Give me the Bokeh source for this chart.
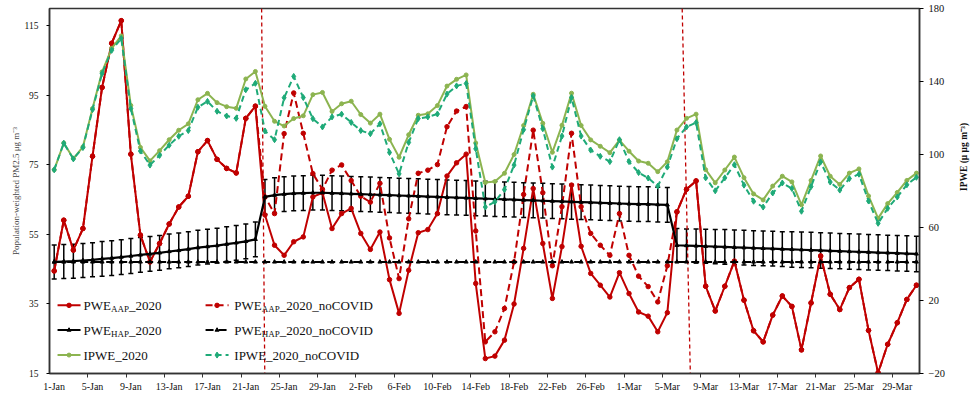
import math
from bokeh.plotting import figure
from bokeh.models import Range1d, LinearAxis, FixedTicker, Whisker, TeeHead, ColumnDataSource, Label
from bokeh.embed import file_html
from bokeh.resources import INLINE

# ---------------- data ----------------
tick_labels = ["1-Jan", "5-Jan", "9-Jan", "13-Jan", "17-Jan", "21-Jan", "25-Jan", "29-Jan",
               "2-Feb", "6-Feb", "10-Feb", "14-Feb", "18-Feb", "22-Feb", "26-Feb", "1-Mar",
               "5-Mar", "9-Mar", "13-Mar", "17-Mar", "21-Mar", "25-Mar", "29-Mar"]
tick_index = list(range(0, 89, 4))
days = list(range(91))  # 1-Jan .. 31-Mar 2020

pwe_aap_2020 = [44.5, 59.1, 50.5, 56.7, 77.5, 97.3, 110.0, 116.5, 78.1, 54.8,
                47.1, 52.4, 58.0, 62.9, 66.0, 78.8, 82.0, 76.6, 74.0, 72.7,
                88.4, 91.9, 60.6, 51.9, 49.0, 52.9, 54.3, 65.8, 67.0, 56.7,
                61.0, 62.5, 55.3, 50.7, 55.7, 42.0, 32.3, 44.7, 55.5, 56.4,
                61.0, 71.8, 75.6, 78.1, 40.9, 19.3, 20.0, 24.6, 35.0, 51.0,
                68.2, 52.4, 36.6, 51.5, 69.2, 51.6, 43.8, 40.4, 37.0, 44.0,
                38.0, 32.7, 31.5, 27.0, 32.5, 61.5, 68.0, 70.4, 40.1, 33.0,
                40.1, 47.3, 36.1, 27.3, 24.1, 31.8, 37.3, 34.3, 21.8, 35.3,
                48.8, 37.8, 33.4, 39.7, 42.1, 27.4, 15.2, 23.4, 29.6, 36.3,
                40.4]

pwe_aap_nocovid = [44.5, 59.1, 50.5, 56.7, 77.5, 97.3, 110.0, 116.5, 78.1, 54.8,
                   47.1, 52.4, 58.0, 62.9, 66.0, 78.8, 82.0, 76.6, 74.0, 72.7,
                   88.4, 91.9, 65.8, 61.0, 84.0, 95.7, 84.1, 72.5, 68.0, 73.5,
                   75.0, 70.5, 66.0, 64.3, 69.7, 54.0, 42.3, 59.5, 72.6, 73.5,
                   75.1, 86.0, 90.5, 91.8, 56.0, 24.1, 27.0, 33.7, 47.1, 66.5,
                   85.0, 67.0, 46.0, 63.0, 84.1, 63.0, 55.3, 51.9, 49.0, 61.0,
                   49.0, 43.0, 40.0, 35.6, 46.0, 61.5, 68.0, 70.4, 40.1, 33.0,
                   40.1, 47.3, 36.1, 27.3, 24.1, 31.8, 37.3, 34.3, 21.8, 35.3,
                   48.8, 37.8, 33.4, 39.7, 42.1, 27.4, 15.2, 23.4, 29.6, 36.3,
                   40.4]

pwe_hap_2020 = [47.1, 47.2, 47.3, 47.5, 47.7, 48.0, 48.2, 48.5, 48.8, 49.1,
                49.4, 49.7, 50.1, 50.4, 50.8, 51.2, 51.5, 51.8, 52.2, 52.6,
                53.0, 53.6, 65.8, 66.3, 66.6, 66.8, 66.9, 67.0, 67.0, 66.9,
                66.8, 66.7, 66.6, 66.5, 66.4, 66.3, 66.2, 66.1, 66.0, 65.9,
                65.8, 65.7, 65.6, 65.5, 65.4, 65.3, 65.2, 65.1, 65.0, 64.9,
                64.8, 64.7, 64.6, 64.5, 64.4, 64.3, 64.2, 64.1, 64.0, 63.9,
                63.8, 63.7, 63.7, 63.6, 63.5, 51.9, 51.8, 51.7, 51.6, 51.5,
                51.4, 51.3, 51.2, 51.1, 51.0, 50.9, 50.8, 50.7, 50.6, 50.5,
                50.4, 50.3, 50.2, 50.1, 50.0, 49.9, 49.8, 49.7, 49.6, 49.5,
                49.4]

pwe_hap_err = [4.9, 4.9, 4.9, 4.9, 4.9, 5.0, 5.0, 5.0, 5.0, 5.0,
               5.0, 5.0, 5.0, 5.0, 5.0, 5.0, 5.0, 5.0, 5.0, 5.0,
               5.0, 5.0, 5.0, 5.0, 5.0, 5.0, 5.0, 5.0, 5.0, 5.0,
               5.0, 5.0, 5.0, 5.0, 5.0, 5.0, 5.0, 5.0, 5.0, 5.0,
               5.0, 5.0, 5.0, 5.0, 5.0, 5.0, 5.0, 5.0, 5.0, 5.0,
               5.0, 5.0, 5.0, 5.0, 5.0, 5.0, 5.0, 5.0, 5.0, 5.0,
               5.0, 5.0, 5.0, 5.0, 5.0, 4.8, 4.8, 4.9, 4.9, 4.9,
               5.0, 5.0, 5.0, 5.0, 5.0, 5.0, 5.0, 5.1, 5.1, 5.1,
               5.1, 5.1, 5.1, 5.1, 5.1, 5.1, 5.1, 5.1, 5.1, 5.1,
               5.1]

pwe_hap_nocovid = [47.1, 47.1, 47.1, 47.1, 47.1, 47.1, 47.1, 47.1, 47.1, 47.1,
                   47.1, 47.1, 47.1, 47.1, 47.1, 47.1, 47.1, 47.1, 47.1, 47.1,
                   47.1, 47.1, 47.1, 47.1, 47.1, 47.1, 47.1, 47.1, 47.1, 47.1,
                   47.1, 47.1, 47.1, 47.1, 47.1, 47.1, 47.1, 47.1, 47.1, 47.1,
                   47.1, 47.1, 47.1, 47.1, 47.1, 47.1, 47.1, 47.1, 47.1, 47.1,
                   47.1, 47.1, 47.1, 47.1, 47.1, 47.1, 47.1, 47.1, 47.1, 47.1,
                   47.1, 47.1, 47.1, 47.1, 47.1, 47.1, 47.1, 47.1, 47.1, 47.1,
                   47.1, 47.1, 47.1, 47.1, 47.1, 47.1, 47.1, 47.1, 47.1, 47.1,
                   47.1, 47.1, 47.1, 47.1, 47.1, 47.1, 47.1, 47.1, 47.1, 47.1,
                   47.1]

ipwe_2020 = [91.6, 106.3, 97.8, 104.2, 125.2, 145.3, 158.2, 165.0, 126.9, 103.9,
             96.5, 102.1, 108.1, 113.3, 116.8, 130.0, 133.5, 128.4, 126.2, 125.3,
             141.4, 145.5, 126.4, 118.2, 115.6, 119.7, 121.2, 132.8, 134.0, 123.6,
             127.8, 129.2, 121.9, 117.2, 122.1, 108.3, 98.5, 110.8, 121.5, 122.3,
             126.8, 137.5, 141.2, 143.6, 106.3, 84.6, 85.2, 89.7, 100.0, 115.9,
             133.0, 117.1, 101.2, 116.0, 133.6, 115.9, 108.0, 104.5, 101.0, 107.9,
             101.8, 96.4, 95.2, 90.6, 96.0, 113.4, 119.8, 122.1, 91.7, 84.5,
             91.5, 98.6, 87.3, 78.4, 75.1, 82.7, 88.1, 85.0, 72.4, 85.8,
             99.2, 88.1, 83.6, 89.8, 92.1, 77.3, 65.0, 73.1, 79.2, 85.8,
             89.8]

ipwe_nocovid = [91.6, 106.2, 97.6, 103.8, 124.6, 144.4, 157.1, 163.6, 125.2, 101.9,
                94.2, 99.5, 105.1, 110.0, 113.1, 125.9, 129.1, 123.7, 121.1, 119.8,
                135.5, 139.0, 112.9, 108.1, 131.1, 142.8, 131.2, 119.6, 115.1, 120.6,
                122.1, 117.6, 113.1, 111.4, 116.8, 101.1, 89.4, 106.6, 119.7, 120.6,
                122.2, 133.1, 137.6, 138.9, 103.1, 71.2, 74.1, 80.8, 94.2, 113.6,
                132.1, 114.1, 93.1, 110.1, 131.2, 110.1, 102.4, 99.0, 96.1, 108.1,
                96.1, 90.1, 87.1, 82.7, 93.1, 108.6, 115.1, 117.5, 87.2, 80.1,
                87.2, 94.4, 83.2, 74.4, 71.2, 78.9, 84.4, 81.4, 68.9, 82.4,
                95.9, 84.9, 80.5, 86.8, 89.2, 74.5, 62.3, 70.5, 76.7, 83.4,
                87.5]

# hand-drawn event markers (top x, bottom x), in day index
event_lines = [(21.65, 21.98), (65.55, 66.4)]

# ---------------- styles ----------------
RED = "#C00000"
BLACK = "#000000"
OLIVE = "#8CB450"
TEAL = "#1EAA78"
SERIF = "Liberation Serif"

p = figure(width=980, height=396, output_backend="svg", toolbar_location=None,
           x_range=Range1d(-0.49, 90.32), y_range=Range1d(15, 120),
           min_border_left=49, min_border_right=61, min_border_top=8, min_border_bottom=23)
p.extra_y_ranges = {"right": Range1d(-20, 180)}
p.xgrid.visible = False
p.ygrid.visible = False
p.outline_line_color = "#333333"
p.outline_line_width = 1.5
p.background_fill_color = "white"
p.border_fill_color = "white"

# x axis
xa = p.xaxis[0]
xa.ticker = FixedTicker(ticks=tick_index, minor_ticks=[t + 3.5 for t in tick_index[:-1]])
xa.major_label_overrides = {t: lab for t, lab in zip(tick_index, tick_labels)}
xa.major_tick_out = 0
xa.major_tick_in = 0
xa.minor_tick_out = 4
xa.minor_tick_in = 0
xa.minor_tick_line_color = "#333333"
xa.major_label_standoff = 3
xa.major_label_text_font = SERIF
xa.major_label_text_font_size = "10px"
xa.major_label_text_color = "#111111"
xa.axis_line_color = "#333333"
xa.axis_line_width = 1.5

# left axis
ya = p.yaxis[0]
ya.ticker = FixedTicker(ticks=[15, 35, 55, 75, 95, 115])
ya.minor_tick_line_color = None
ya.major_tick_out = 3
ya.major_tick_in = 0
ya.major_label_standoff = 8
ya.major_label_text_font = SERIF
ya.major_label_text_font_size = "9.5px"
ya.major_label_text_color = "#111111"
ya.axis_line_color = "#333333"
ya.axis_line_width = 1.5
ya.axis_label = "Population-weighted PM2.5 μg m⁻³"
ya.axis_label_text_font = SERIF
ya.axis_label_text_font_size = "9px"
ya.axis_label_text_font_style = "normal"
ya.axis_label_standoff = 1

# right axis (title reads bottom-to-top, like the reference)
ra = LinearAxis(y_range_name="right", ticker=FixedTicker(ticks=[-20, 20, 60, 100, 140, 180]))
ra.minor_tick_line_color = None
ra.major_tick_out = 4
ra.major_tick_in = 0
ra.major_label_standoff = 5
ra.major_label_text_font = SERIF
ra.major_label_text_font_size = "10.5px"
ra.major_label_text_color = "#111111"
ra.axis_line_color = "#333333"
ra.axis_line_width = 1.5
ra.axis_label = "IPWE (μ μg m⁻³)"
ra.axis_label_text_font = SERIF
ra.axis_label_text_font_size = "9.5px"
ra.axis_label_text_font_style = "bold"
ra.axis_label_text_color = "#111111"
ra.axis_label_standoff = 16
if "axis_label_orientation" in ra.properties():
    ra.axis_label_orientation = math.pi / 2
    ra.axis_label_text_align = "center"
p.add_layout(ra, "right")

# event lines
for top_x, bot_x in event_lines:
    p.segment(x0=[top_x], y0=[120], x1=[bot_x], y1=[15], line_color=RED,
              line_width=1.3, line_dash="4 3")

# series
p.line(days, pwe_aap_2020, line_color=RED, line_width=2)
p.scatter(days, pwe_aap_2020, marker="circle", size=4.5, color=RED)

p.line(days, pwe_aap_nocovid, line_color=RED, line_width=2, line_dash="7 4")
p.scatter(days, pwe_aap_nocovid, marker="circle", size=4.5, color=RED)

src = ColumnDataSource(dict(
    x=days,
    upper=[h + e for h, e in zip(pwe_hap_2020, pwe_hap_err)],
    lower=[h - e for h, e in zip(pwe_hap_2020, pwe_hap_err)],
))
p.add_layout(Whisker(source=src, base="x", upper="upper", lower="lower",
                     line_color=BLACK, line_width=1.5,
                     upper_head=TeeHead(size=5, line_width=1.5, line_color=BLACK),
                     lower_head=TeeHead(size=5, line_width=1.5, line_color=BLACK)))
p.line(days, pwe_hap_2020, line_color=BLACK, line_width=2.2)
p.scatter(days, pwe_hap_2020, marker="triangle", size=4, color=BLACK)

p.line(days, pwe_hap_nocovid, line_color=BLACK, line_width=2, line_dash="8 5")
p.scatter(days, pwe_hap_nocovid, marker="triangle", size=4, color=BLACK)

p.line(days, ipwe_2020, line_color=OLIVE, line_width=2, y_range_name="right")
p.scatter(days, ipwe_2020, marker="circle", size=4, color=OLIVE, y_range_name="right")

p.line(days, ipwe_nocovid, line_color=TEAL, line_width=2, line_dash="6 4", y_range_name="right")
p.scatter(days, ipwe_nocovid, marker="diamond", size=6, color=TEAL, y_range_name="right")

# ---------------- legend (manual, to allow subscripts) ----------------
legend_rows = [
    (dict(color=RED, dash="solid", marker="circle", msize=4.5),
     ("PWE", "AAP", "_2020"),
     dict(color=RED, dash="7 4", marker="circle", msize=4.5),
     ("PWE", "AAP", "_2020_noCOVID"), 34.6),
    (dict(color=BLACK, dash="solid", marker="triangle", msize=4),
     ("PWE", "HAP", "_2020"),
     dict(color=BLACK, dash="8 5", marker="triangle", msize=4),
     ("PWE", "HAP", "_2020_noCOVID"), 27.5),
    (dict(color=OLIVE, dash="solid", marker="circle", msize=4),
     ("IPWE_2020", "", ""),
     dict(color=TEAL, dash="6 4", marker="diamond", msize=6),
     ("IPWE_2020_noCOVID", "", ""), 20.3),
]
col_line = [(0.35, 2.75), (15.8, 18.2)]
col_text = [3.05, 18.8]


def add_text(x, y, parts):
    main, sub, rest = parts
    common = dict(x=x, y=y, text_font=SERIF, text_color="#111111", text_baseline="middle")
    p.add_layout(Label(text=main, text_font_size="13px", **common))
    if sub:
        p.add_layout(Label(text=sub, text_font_size="9px", x_offset=27.5, y_offset=-4, **common))
        p.add_layout(Label(text=rest, text_font_size="13px", x_offset=45.5, **common))


for s1, t1, s2, t2, yrow in legend_rows:
    for (x0, x1), xt, st, tt in zip(col_line, col_text, (s1, s2), (t1, t2)):
        p.line([x0, x1], [yrow, yrow], line_color=st["color"], line_width=2, line_dash=st["dash"])
        p.scatter([(x0 + x1) / 2], [yrow], marker=st["marker"], size=st["msize"], color=st["color"])
        add_text(xt, yrow, tt)

open("out.html", "w").write(file_html(p, INLINE))
